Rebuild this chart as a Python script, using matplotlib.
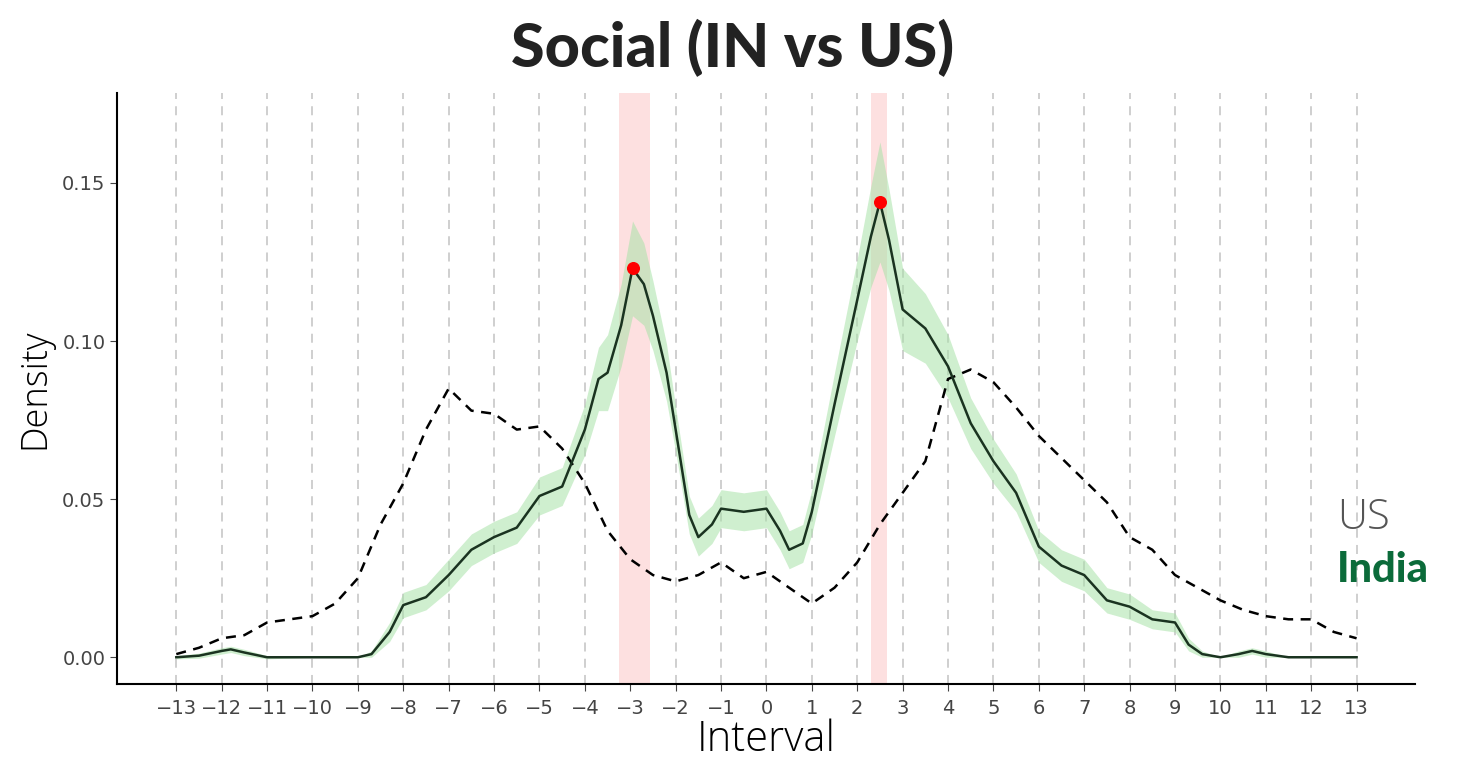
import numpy as np
import matplotlib.pyplot as plt

# India density (solid line) with confidence band half-width
in_x = [-13, -12.5, -12, -11.8, -11.5, -11, -10, -9, -8.7, -8.3, -8, -7.5, -7, -6.5, -6, -5.5, -5, -4.5,
        -4, -3.7, -3.5, -3.2, -2.95, -2.7, -2.5, -2.2, -2, -1.7, -1.5, -1.2, -1, -0.5, 0, 0.3, 0.5,
        0.8, 1, 1.5, 2, 2.3, 2.5, 2.7, 3, 3.5, 4, 4.5, 5, 5.5, 6, 6.5, 7, 7.5, 8, 8.5, 9, 9.3,
        9.6, 10, 10.4, 10.7, 11, 11.5, 12, 13]
in_y = [0.0, 0.0005, 0.002, 0.0025, 0.0015, 0.0, 0.0, 0.0, 0.001, 0.008, 0.0165, 0.019, 0.026,
        0.034, 0.038, 0.041, 0.051, 0.054, 0.072, 0.088, 0.090, 0.105, 0.123, 0.118, 0.108,
        0.090, 0.072, 0.045, 0.038, 0.042, 0.047, 0.046, 0.047, 0.040, 0.034, 0.036, 0.046,
        0.080, 0.113, 0.133, 0.144, 0.132, 0.110, 0.104, 0.092, 0.074, 0.062, 0.052, 0.035,
        0.029, 0.026, 0.018, 0.016, 0.012, 0.011, 0.004, 0.001, 0.0, 0.001, 0.002, 0.001, 0.0,
        0.0, 0.0]
in_band = [0.0005, 0.0008, 0.001, 0.001, 0.001, 0.0005, 0.0, 0.0, 0.001, 0.003, 0.004, 0.004,
           0.005, 0.005, 0.005, 0.005, 0.006, 0.006, 0.008, 0.010, 0.012, 0.013, 0.015, 0.013,
           0.011, 0.009, 0.007, 0.006, 0.006, 0.006, 0.006, 0.006, 0.006, 0.006, 0.006, 0.006,
           0.007, 0.010, 0.013, 0.016, 0.019, 0.016, 0.013, 0.011, 0.010, 0.008, 0.007, 0.006,
           0.005, 0.005, 0.005, 0.004, 0.004, 0.003, 0.003, 0.002, 0.001, 0.0, 0.001, 0.001,
           0.001, 0.0, 0.0, 0.0]

# US density (dashed line)
us_x = [-13, -12.5, -12, -11.5, -11, -10.5, -10, -9.5, -9, -8.5, -8, -7.5, -7, -6.5, -6, -5.5,
        -5, -4.5, -4, -3.5, -3, -2.5, -2, -1.5, -1, -0.5, 0, 0.5, 1, 1.5, 2, 2.5, 3, 3.5, 4,
        4.5, 5, 5.5, 6, 6.5, 7, 7.5, 8, 8.5, 9, 9.5, 10, 10.5, 11, 11.5, 12, 12.5, 13]
us_y = [0.001, 0.003, 0.006, 0.007, 0.011, 0.012, 0.013, 0.017, 0.025, 0.042, 0.055, 0.072,
        0.085, 0.078, 0.077, 0.072, 0.073, 0.066, 0.055, 0.040, 0.031, 0.026, 0.024, 0.026,
        0.030, 0.025, 0.027, 0.022, 0.017, 0.022, 0.030, 0.042, 0.052, 0.062, 0.088, 0.091,
        0.087, 0.079, 0.070, 0.063, 0.056, 0.049, 0.038, 0.034, 0.026, 0.022, 0.018, 0.015,
        0.013, 0.012, 0.012, 0.008, 0.006]

peaks_x = [-2.95, 2.5]
peaks_y = [0.123, 0.144]
highlight_spans = [(-3.24, -2.56), (2.3, 2.65)]
ticks = list(range(-13, 14))

fig = plt.figure(figsize=(14.66, 7.61), dpi=100)
ax = fig.add_axes([0.080, 0.101, 0.885, 0.777])

for t in ticks:
    ax.axvline(t, color='#cccccc', linestyle=(0, (5, 4)), linewidth=1.3, zorder=0)
for a, b in highlight_spans:
    ax.axvspan(a, b, color='#fde0e0', zorder=1, lw=0)

lo = np.array(in_y) - np.array(in_band)
hi = np.array(in_y) + np.array(in_band)
ax.fill_between(in_x, lo, hi, color='#a8e2a8', alpha=0.55, lw=0, zorder=2)
ax.plot(us_x, us_y, color='black', linestyle=(0, (4, 3)), linewidth=1.8, zorder=3)
ax.plot(in_x, in_y, color='#1a3320', linewidth=1.8, zorder=4)
ax.scatter(peaks_x, peaks_y, color='red', s=70, zorder=5)

ax.set_xlim(-14.3, 14.28)
ax.set_ylim(-0.0085, 0.1785)
ax.set_xticks(ticks)
ax.set_xticklabels([str(t).replace('-', '\u2212') for t in ticks])
ax.set_yticks([0, 0.05, 0.10, 0.15])
ax.set_yticklabels(['0.00', '0.05', '0.10', '0.15'])
ax.tick_params(labelsize=14, colors='#444444', length=5)
ax.tick_params(axis='x', pad=6)
for s in ['top', 'right']:
    ax.spines[s].set_visible(False)
ax.spines['left'].set_linewidth(1.5)
ax.spines['bottom'].set_linewidth(1.5)

ax.set_xlabel('Interval', fontsize=30, family='Open Sans', fontweight='light', labelpad=0)
ax.set_ylabel('Density', fontsize=26, family='Open Sans', fontweight='light', labelpad=6)
fig.suptitle('Social (IN vs US)', fontsize=44, fontweight='black', family='Lato',
             color='#222222', y=0.975)

fig.text(0.912, 0.305, 'US', fontsize=30, color='#555555', family='Open Sans', fontweight='light')
fig.text(0.912, 0.235, 'India', fontsize=30, color='#0b6b3a', family='Lato', fontweight='black')

fig.savefig('out.png', dpi=100)
